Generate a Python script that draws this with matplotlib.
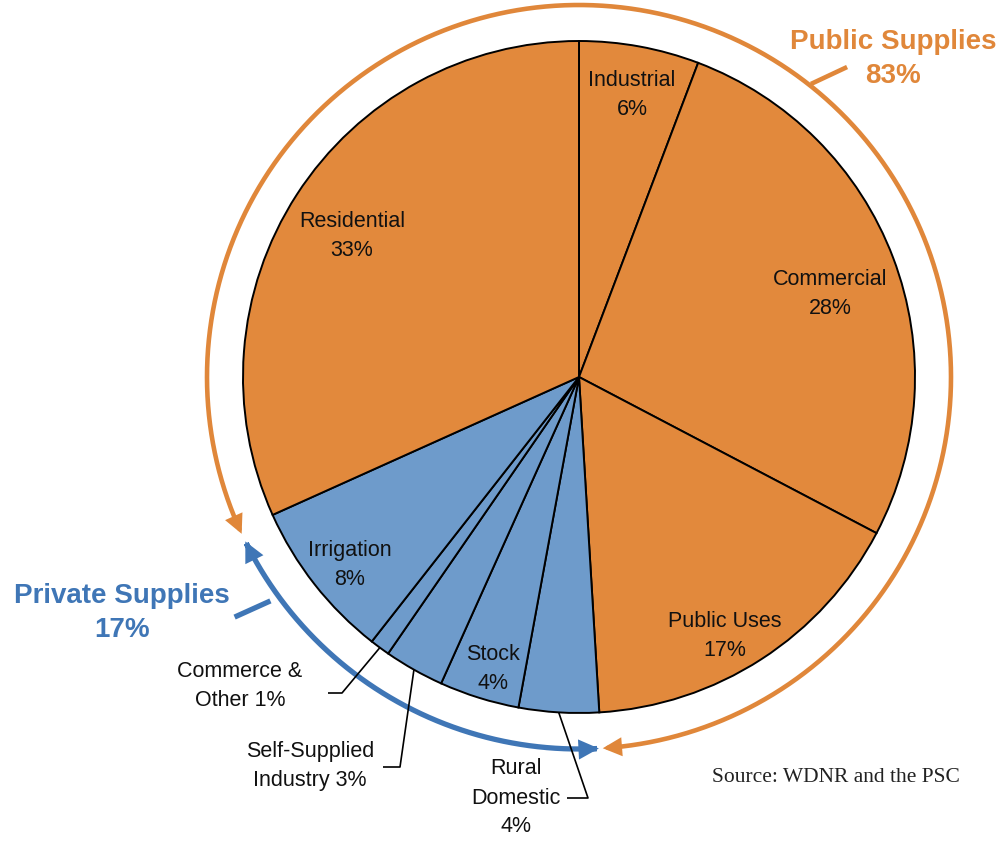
import numpy as np
import matplotlib
matplotlib.use("Agg")
import matplotlib.pyplot as plt
from matplotlib.patches import FancyArrowPatch, ArrowStyle
from matplotlib.path import Path

# water use by sector, clockwise from 12 o'clock
sectors = ["Industrial", "Commercial", "Public Uses", "Rural Domestic", "Stock",
           "Self-Supplied Industry", "Commerce & Other", "Irrigation", "Residential"]
shares = [6, 28, 17, 4, 4, 3, 1, 8, 33]
is_public = [True, True, True, False, False, False, False, False, True]
group_totals = {"Public Supplies": 83, "Private Supplies": 17}

ORANGE = "#E2893C"
BLUE = "#6E9BCB"
ORANGE_DARK = "#E0873A"
BLUE_DARK = "#3F76B6"

W, H = 1003, 841
CX, CY, R = 579, H - 377, 336   # pie centre / radius in pixels
R_ARC = 372


def px(x, y):
    # pixel position measured from the top-left corner -> axes coords
    return x, H - y


fig = plt.figure(figsize=(W / 100, H / 100), dpi=100)
ax = fig.add_axes([0, 0, 1, 1])
plt.rcParams["font.family"] = ["Liberation Sans", "DejaVu Sans"]

colors = [ORANGE if p else BLUE for p in is_public]
wedges, _ = ax.pie(shares, colors=colors, startangle=90, counterclock=False,
                   center=(CX, CY), radius=R,
                   wedgeprops=dict(edgecolor="black", linewidth=1.4))
ax.set_xlim(0, W)
ax.set_ylim(0, H)
ax.set_aspect("equal")
ax.axis("off")

# wedge boundary angles (degrees, counter-clockwise from +x)
total = sum(shares)
edges = 90 - 360 * np.concatenate([[0], np.cumsum(shares)]) / total
mids = (edges[:-1] + edges[1:]) / 2

# labels inside the pie
inside = {
    "Industrial": ("Industrial\n6%", 632, 95),
    "Commercial": ("Commercial\n28%", 830, 294),
    "Public Uses": ("Public Uses\n17%", 725, 636),
    "Stock": ("Stock\n4%", 493, 669),
    "Irrigation": ("Irrigation\n8%", 350, 565),
    "Residential": ("Residential\n33%", 352, 236),
}
for name, (txt, x, y) in inside.items():
    ax.text(*px(x, y), txt, ha="center", va="center", fontsize=15.5,
            color="#111111", linespacing=1.5)

# labels outside with leader lines from the wedge edge
outside = {
    "Commerce & Other": ("Commerce &\nOther 1%", 240, 686, [(342, 693), (328, 693)]),
    "Self-Supplied Industry": ("Self-Supplied\nIndustry 3%", 310, 766, [(400, 767), (383, 767)]),
    "Rural Domestic": ("Rural\nDomestic\n4%", 516, 798, [(588, 798), (567, 798)]),
}
for name, (txt, x, y, elbow) in outside.items():
    i = sectors.index(name)
    a = np.radians(mids[i])
    xs = [CX + R * np.cos(a)] + [e[0] for e in elbow]
    ys = [CY + R * np.sin(a)] + [H - e[1] for e in elbow]
    ax.plot(xs, ys, color="black", lw=1.2, solid_capstyle="butt")
    ax.text(*px(x, y), txt, ha="center", va="center", fontsize=15.5,
            color="#111111", linespacing=1.5)


def group_arc(a0, a1, color, lw):
    t = np.radians(np.linspace(a0, a1, 200))
    verts = np.column_stack([CX + R_ARC * np.cos(t), CY + R_ARC * np.sin(t)])
    style = ArrowStyle("<|-|>", head_length=8.5, head_width=4.2)
    arr = FancyArrowPatch(path=Path(verts), arrowstyle=style, mutation_scale=1,
                          color=color, lw=lw, joinstyle="miter")
    ax.add_patch(arr)


# private wedges sit between edges[3] and edges[8]
priv_start, priv_end = edges[3], edges[8]
group_arc(priv_start + 0.2, priv_end + 360 + 0.7, ORANGE_DARK, 3.3)
group_arc(priv_start - 0.4, priv_end + 2.0, BLUE_DARK, 3.8)

# group labels
ax.text(*px(893, 59), f"Public Supplies\n{group_totals['Public Supplies']}%",
        ha="center", va="center", fontsize=20, fontweight="bold",
        color=ORANGE_DARK, linespacing=1.38)
ax.plot(*zip(px(813, 83), px(845, 68)), color=ORANGE_DARK, lw=3.3)

ax.text(*px(122, 613), f"Private Supplies\n{group_totals['Private Supplies']}%",
        ha="center", va="center", fontsize=20, fontweight="bold",
        color=BLUE_DARK, linespacing=1.38)
ax.plot(*zip(px(237, 616), px(268, 602)), color=BLUE_DARK, lw=3.8)

ax.text(*px(836, 778), "Source: WDNR and the PSC", ha="center", va="center",
        fontsize=15.5, family=["Liberation Serif", "DejaVu Serif"], color="#222222")

fig.savefig("out.png", dpi=100, facecolor="white")
